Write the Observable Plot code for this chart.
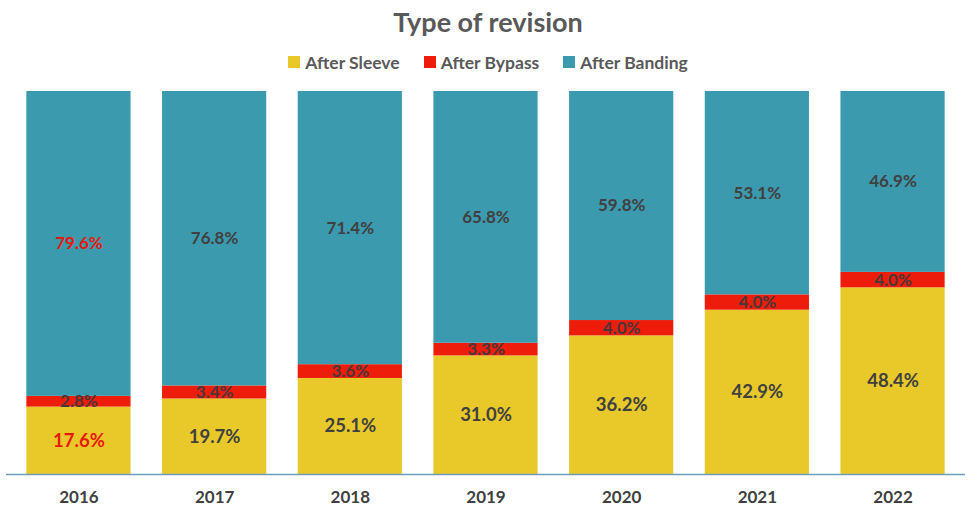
<!DOCTYPE html>
<html>
<head>
<meta charset="utf-8">
<script src="https://cdn.jsdelivr.net/npm/d3@7"></script>
<script src="https://cdn.jsdelivr.net/npm/@observablehq/plot@0.6"></script>
<style>
  body { margin: 0; background: #fff; font-family: Lato, "Open Sans", sans-serif; }
  #wrap { width: 976px; }
  #title { height: 44px; line-height: 44px; text-align: center; font-weight: 700; font-size: 27px; color: #595959; }
  #legend { height: 36px; display: flex; justify-content: center; align-items: center; gap: 24px; font-weight: 700; font-size: 17.5px; color: #595959; }
  .item { display: flex; align-items: center; gap: 5px; }
  .sw { width: 12px; height: 12px; display: inline-block; }
</style>
</head>
<body>
<div id="wrap">
  <div id="title">Type of revision</div>
  <div id="legend"></div>
  <div id="chart"></div>
</div>
<script>
const years = ["2016", "2017", "2018", "2019", "2020", "2021", "2022"];
const seriesNames = ["After Sleeve", "After Bypass", "After Banding"];
const afterSleeve = [17.6, 19.7, 25.1, 31.0, 36.2, 42.9, 48.4];
const afterBypass = [2.8, 3.4, 3.6, 3.3, 4.0, 4.0, 4.0];
const afterBanding = [79.6, 76.8, 71.4, 65.8, 59.8, 53.1, 46.9];
const seriesColors = ["#E9C92A", "#EE1C0B", "#3C9AAF"];

const seriesValues = [afterSleeve, afterBypass, afterBanding];
const data = [];
years.forEach((y, i) => {
  seriesNames.forEach((s, j) => {
    data.push({ year: y, type: s, value: seriesValues[j][i] });
  });
});

// Legend
const legend = document.getElementById("legend");
seriesNames.forEach((s, j) => {
  const it = document.createElement("div");
  it.className = "item";
  it.innerHTML = `<span class="sw" style="background:${seriesColors[j]}"></span><span>${s}</span>`;
  legend.appendChild(it);
});

const darkText = "#404040";
const bypassText = "#4a3838";
const redText = "#E8190C";
const stackOpts = { x: "year", y: "value", z: "type", order: seriesNames, offset: "normalize" };

const plot = Plot.plot({
  width: 976,
  height: 440,
  marginTop: 11,
  marginBottom: 46,
  marginLeft: 6,
  marginRight: 11,
  style: { fontFamily: "Lato, 'Open Sans', sans-serif", background: "#fff" },
  x: { domain: years, paddingInner: 0.232, paddingOuter: 0.15, round: false, label: null, tickSize: 0, tickPadding: 16 },
  y: { axis: null, domain: [0, 1] },
  color: { domain: seriesNames, range: seriesColors },
  marks: [
    Plot.barY(data, Plot.stackY({ ...stackOpts, fill: "type" })),
    Plot.ruleY([0], { stroke: "#6E9CBA", strokeWidth: 1.5 }),
    Plot.text(data, Plot.stackY({
      ...stackOpts,
      text: d => d.value.toFixed(1) + "%",
      fill: d => d.type === "After Bypass" ? bypassText : (d.year === "2016" ? redText : darkText),
      fontSize: d => d.type === "After Sleeve" ? 18.5 : 17,
      fontWeight: 700
    })),
    Plot.axisX({ tickSize: 0, tickPadding: 16, fontSize: 17, fontWeight: 700, fill: "#404040", label: null })
  ]
});
document.getElementById("chart").appendChild(plot);
</script>
</body>
</html>
